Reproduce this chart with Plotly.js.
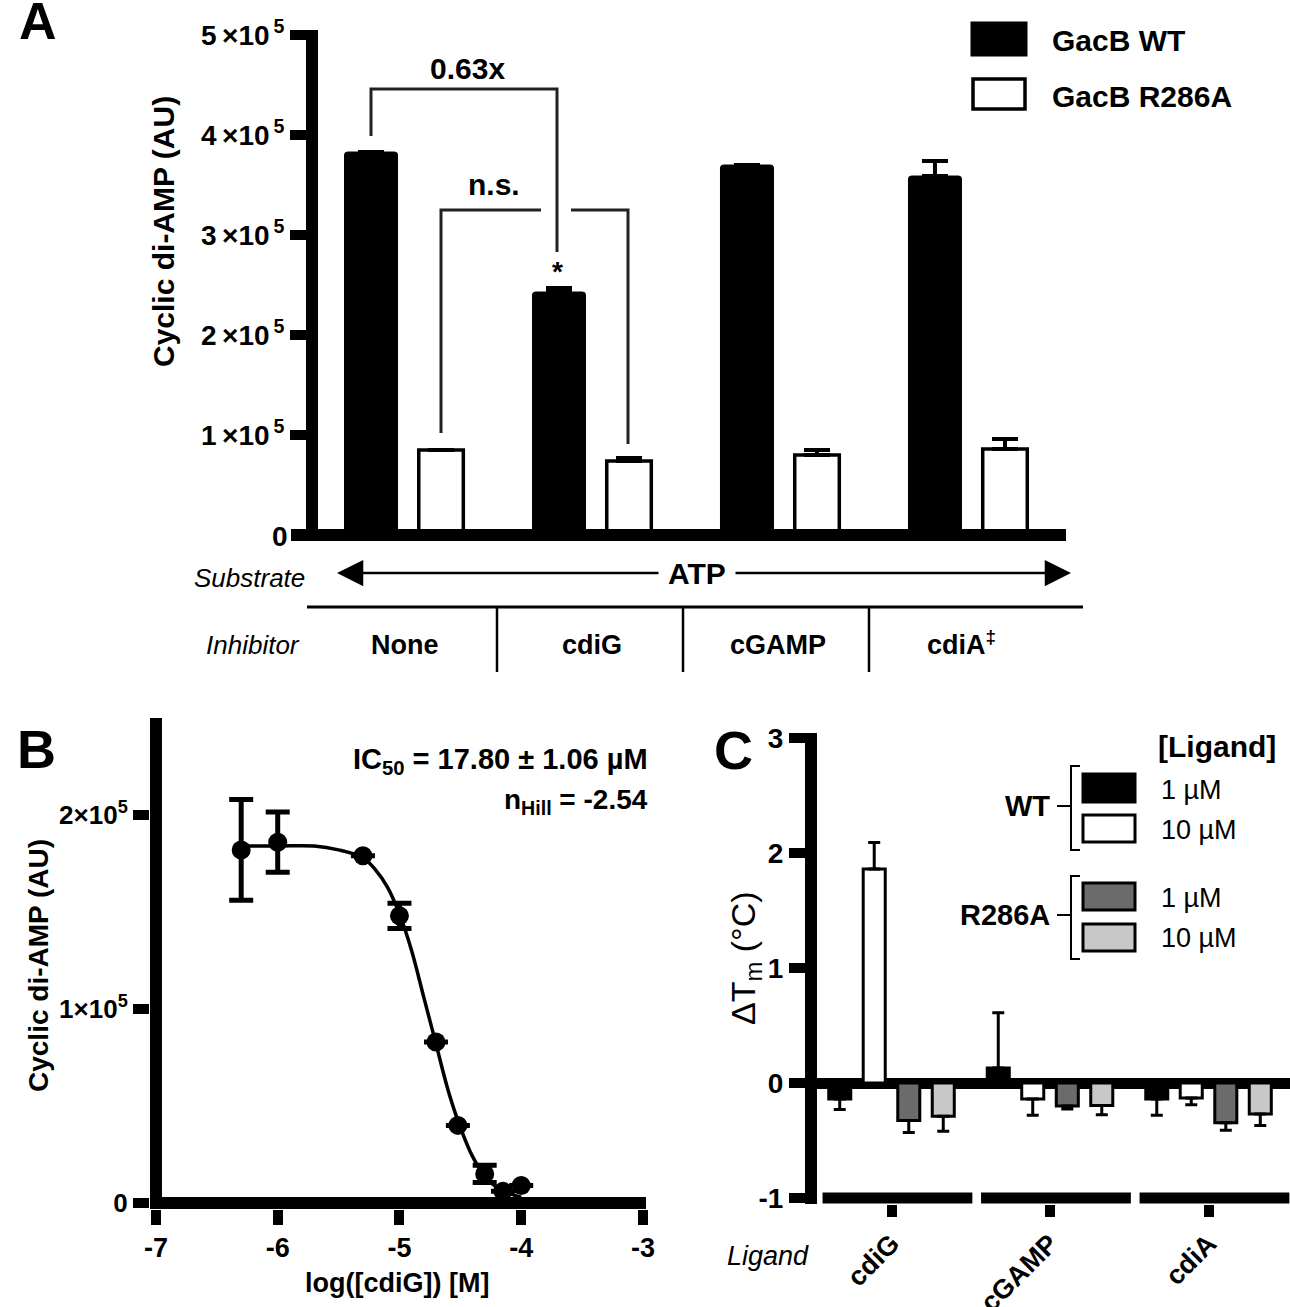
<!DOCTYPE html>
<html><head><meta charset="utf-8">
<script src="https://cdn.plot.ly/plotly-3.0.1.min.js"></script>
<style>html,body{margin:0;padding:0;background:#fff}</style>
</head><body><div id="chart" style="width:1290px;height:1307px"></div>
<script>
// ---------- Panel A data ----------
const inhibitors = ['None', 'cdiG', 'cGAMP', 'cdiA'];
const gacbWT = [383000, 243000, 370000, 359000];
const gacbWTErr = [0, 4000, 0, 15000];
const gacbR286A = [85000, 74000, 80000, 86000];
const gacbR286AErr = [0, 3000, 5000, 10000];
const aTickVals = [100000, 200000, 300000, 400000, 500000];
const aTickText = ['1\u2009×10<sup>\u20095</sup>', '2\u2009×10<sup>\u20095</sup>', '3\u2009×10<sup>\u20095</sup>', '4\u2009×10<sup>\u20095</sup>', '5\u2009×10<sup>\u20095</sup>'];

// ---------- Panel B data ----------
const logCdiG = [-6.3, -6.0, -5.3, -5.0, -4.7, -4.52, -4.3, -4.15, -4.0];
const cdaSignal = [182000, 186000, 179000, 148000, 83000, 40000, 15000, 6000, 9000];
const cdaSem = [26000, 15500, 0, 6500, 0, 0, 4500, 0, 0];
const fitX = [-6.3, -6.0, -5.7, -5.5, -5.3, -5.2, -5.1, -5.0, -4.9, -4.8, -4.7, -4.6, -4.5, -4.4, -4.3, -4.2, -4.1, -4.0];
const fitY = [184000, 184000, 184000, 182000, 178000, 172000, 163000, 149000, 130000, 106000, 82000, 58000, 39000, 24000, 14000, 8000, 5000, 3000];
const bTickVals = [-7, -6, -5, -4, -3];
const bTickText = ['-7', '-6', '-5', '-4', '-3'];
const bYTickVals = [0, 100000, 200000];
const bYTickText = ['0', '1×10<sup>5</sup>', '2×10<sup>5</sup>'];

// ---------- Panel C data ----------
const ligands = ['cdiG', 'cGAMP', 'cdiA'];
const wt1uM = [-0.14, 0.13, -0.14];
const wt1uMErr = [0.09, 0.48, 0.14];
const wt10uM = [1.86, -0.14, -0.13];
const wt10uMErr = [0.23, 0.14, 0.06];
const r1uM = [-0.325, -0.20, -0.345];
const r1uMErr = [0.105, 0.025, 0.065];
const r10uM = [-0.29, -0.195, -0.27];
const r10uMErr = [0.13, 0.08, 0.10];
const cTickVals = [-1, 0, 1, 2, 3];
const cTickText = ['-1', '0', '1', '2', '3'];

// ---------- helpers ----------
const W = 1290, H = 1307;
const fx = p => p / W, fy = p => 1 - p / H;
const FONT = 'Liberation Sans, Arial, Helvetica, sans-serif';
const fnt = (size, weight, style) => ({family: FONT, size: size, color: '#000', weight: weight || 'bold', style: style || 'normal'});
const upErr = (v, e) => v.map((x, i) => x >= 0 ? e[i] : 0);
const downErr = (v, e) => v.map((x, i) => x < 0 ? e[i] : 0);
const zeros = n => new Array(n).fill(0);

const traces = [];
// Panel A bars
traces.push({type: 'bar', x: inhibitors, y: gacbWT, xaxis: 'x', yaxis: 'y', width: 0.282, offset: -0.327,
  marker: {color: '#000', line: {color: '#000', width: 1}, cornerradius: 3},
  error_y: {type: 'data', symmetric: false, array: gacbWTErr, arrayminus: zeros(4), color: '#000', thickness: 4, width: 13}});
traces.push({type: 'bar', x: inhibitors, y: gacbR286A, xaxis: 'x', yaxis: 'y', width: 0.237, offset: 0.068,
  marker: {color: '#fff', line: {color: '#000', width: 3.5}},
  error_y: {type: 'data', symmetric: false, array: gacbR286AErr, arrayminus: zeros(4), color: '#000', thickness: 4, width: 13}});
// Panel B
traces.push({type: 'scatter', mode: 'lines', x: fitX, y: fitY, xaxis: 'x2', yaxis: 'y2',
  line: {color: '#000', width: 3.5, shape: 'spline', smoothing: 1.0}});
traces.push({type: 'scatter', mode: 'markers', x: logCdiG, y: cdaSignal, xaxis: 'x2', yaxis: 'y2',
  marker: {color: '#000', size: 19, symbol: 'circle'},
  error_y: {type: 'data', array: cdaSem, color: '#000', thickness: 5, width: 12}});
// Panel C bars
const cBar = (vals, errs, color, offset) => ({type: 'bar', x: ligands, y: vals, xaxis: 'x3', yaxis: 'y3', width: 0.139, offset: offset,
  marker: {color: color, line: {color: '#000', width: 3}},
  error_y: {type: 'data', symmetric: false, array: upErr(vals, errs), arrayminus: downErr(vals, errs), color: '#000', thickness: 3, width: 6}});
traces.push(cBar(wt1uM, wt1uMErr, '#000', -0.396));
traces.push(cBar(wt10uM, wt10uMErr, '#fff', -0.1785));
traces.push(cBar(r1uM, r1uMErr, '#6b6b6b', 0.0395));
traces.push(cBar(r10uM, r10uMErr, '#c8c8c8', 0.257));

// ---------- shapes ----------
const shapes = [];
const pline = (x0, y0, x1, y1, w) => shapes.push({type: 'line', xref: 'paper', yref: 'paper', x0: fx(x0), y0: fy(y0), x1: fx(x1), y1: fy(y1), line: {color: '#000', width: w}});
const ppath = (pts, w, col) => shapes.push({type: 'path', xref: 'paper', yref: 'paper',
  path: pts.map((p, i) => (i ? 'L' : 'M') + fx(p[0]) + ',' + fy(p[1])).join(' '), line: {color: col || '#222', width: w}});
const prect = (x0, y0, x1, y1, fill, w) => shapes.push({type: 'rect', xref: 'paper', yref: 'paper', x0: fx(x0), y0: fy(y1), x1: fx(x1), y1: fy(y0), fillcolor: fill, line: {color: '#000', width: w}});

// Panel A decorations
pline(291, 535, 318, 535, 12);
ppath([[371, 136], [371, 89], [557, 89], [557, 252]], 3);
ppath([[441, 433], [441, 210], [541, 210]], 3);
ppath([[571, 210], [628, 210], [628, 444]], 3);
prect(972, 23, 1026, 55, '#000', 3);
prect(973, 79, 1025, 109, '#fff', 3.5);
pline(307, 607, 1083, 607, 3);
[497, 683, 869].forEach(x => pline(x, 607, x, 672, 2.5));
// Panel B y axis line at x = -7
shapes.push({type: 'line', xref: 'x2', yref: 'y2', x0: -7, x1: -7, y0: -3100, y1: 250000, line: {color: '#000', width: 12}});
// Panel C segmented category axis
ligands.forEach((l, i) => shapes.push({type: 'line', xref: 'x3', yref: 'y3', x0: i - 0.435, x1: i + 0.51, y0: -1, y1: -1, line: {color: '#000', width: 11}}));
// Panel C legend
prect(1083, 774, 1135, 802, '#000', 3);
prect(1083, 815, 1135, 842, '#fff', 3);
prect(1083, 883, 1135, 910, '#6b6b6b', 3);
prect(1083, 924, 1135, 951, '#c8c8c8', 3);
ppath([[1080, 766], [1071, 766], [1071, 850], [1080, 850]], 2, '#000');
ppath([[1057, 806], [1071, 806]], 2, '#000');
ppath([[1080, 876], [1071, 876], [1071, 959], [1080, 959]], 2, '#000');
ppath([[1057, 915], [1071, 915]], 2, '#000');

// ---------- annotations ----------
const ann = [];
const txt = (text, x, y, font, xanchor, extra) => ann.push(Object.assign({text: text, x: fx(x), y: fy(y), xref: 'paper', yref: 'paper',
  showarrow: false, xanchor: xanchor || 'center', yanchor: 'middle', font: font}, extra || {}));
// Panel A
txt('A', 38, 21, fnt(52));
txt('Cyclic di-AMP (AU)', 163, 232, fnt(30), 'center', {textangle: -90});
txt('0', 290, 536, fnt(28), 'right');
txt('0.63x', 467, 69, fnt(30));
txt('n.s.', 494, 184, fnt(30));
txt('*', 557, 272, fnt(28));
txt('GacB WT', 1050, 40, fnt(30), 'left');
txt('GacB R286A', 1050, 96, fnt(30), 'left');
txt('Substrate', 249, 578, fnt(26, 'normal', 'italic'));
txt('ATP', 697, 574, fnt(30));
txt('Inhibitor', 253, 645, fnt(26, 'normal', 'italic'));
txt('None', 405, 645, fnt(27));
txt('cdiG', 592, 645, fnt(27));
txt('cGAMP', 778, 645, fnt(27));
txt('cdiA<sup>‡</sup>', 962, 643, fnt(27));
ann.push({text: '', x: fx(337), y: fy(573), xref: 'paper', yref: 'paper', showarrow: true, ax: 660 - 337, ay: 0,
  arrowhead: 2, arrowsize: 2.1, arrowwidth: 2.5, arrowcolor: '#000', standoff: 0, startstandoff: 0});
ann.push({text: '', x: fx(1071), y: fy(573), xref: 'paper', yref: 'paper', showarrow: true, ax: 734 - 1071, ay: 0,
  arrowhead: 2, arrowsize: 2.1, arrowwidth: 2.5, arrowcolor: '#000', standoff: 0, startstandoff: 0});
// Panel B
txt('B', 36, 749, fnt(54));
txt('Cyclic di-AMP (AU)', 38, 966, fnt(28), 'center', {textangle: -90});
txt('IC<sub>50</sub> = 17.80 ± 1.06 µM', 650, 761, fnt(29), 'right');
txt('n<sub>Hill</sub> = -2.54', 650, 801, fnt(28), 'right');
txt('log([cdiG]) [M]', 397, 1283, fnt(27));
// Panel C
txt('C', 733, 750, fnt(54));
txt('ΔT<sub>m</sub> (°C)', 745, 958, fnt(34, 'normal'), 'center', {textangle: -90});
txt('[Ligand]', 1278, 746, fnt(30), 'right');
txt('1 µM', 1159, 790, fnt(27, 'normal'), 'left');
txt('10 µM', 1159, 830, fnt(27, 'normal'), 'left');
txt('1 µM', 1159, 898, fnt(27, 'normal'), 'left');
txt('10 µM', 1159, 938, fnt(27, 'normal'), 'left');
txt('WT', 1052, 806, fnt(29), 'right');
txt('R286A', 1052, 915, fnt(29), 'right');
txt('Ligand', 768, 1256, fnt(27, 'normal', 'italic'));

const layout = {
  width: W, height: H, margin: {l: 0, r: 0, t: 0, b: 0}, paper_bgcolor: '#fff', plot_bgcolor: 'rgba(0,0,0,0)',
  showlegend: false, barmode: 'overlay', hovermode: false,
  xaxis: {domain: [fx(318), fx(1066)], range: [-0.468, 3.511], type: 'category', anchor: 'y', showline: true, linewidth: 12, linecolor: '#000',
    ticks: '', showticklabels: false, showgrid: false, zeroline: false, fixedrange: true},
  yaxis: {domain: [fy(529), fy(30)], range: [6000, 505000], anchor: 'x', showline: true, linewidth: 12, linecolor: '#000',
    tickvals: aTickVals, ticktext: aTickText, ticks: 'outside', ticklen: 16, tickwidth: 10, tickcolor: '#000',
    tickfont: fnt(28), showgrid: false, zeroline: false},
  xaxis2: {domain: [fx(150), fx(646)], range: [-7.049, -2.975], anchor: 'y2', showline: false,
    tickvals: bTickVals, ticktext: bTickText, ticks: 'outside', ticklen: 15, tickwidth: 10, tickcolor: '#000',
    tickfont: fnt(27), showgrid: false, zeroline: false},
  yaxis2: {domain: [fy(1209), fy(718)], range: [-3100, 250000], anchor: 'x2', showline: false,
    tickvals: bYTickVals, ticktext: bYTickText, ticks: 'outside', ticklen: 16, tickwidth: 10, tickcolor: '#000',
    tickfont: fnt(26), showgrid: false, zeroline: true, zerolinewidth: 12, zerolinecolor: '#000'},
  xaxis3: {domain: [fx(817), 1], range: [-0.47, 2.514], type: 'category', anchor: 'y3', showline: false,
    ticks: 'outside', ticklen: 12, tickwidth: 10, tickcolor: '#000', tickangle: -45,
    tickfont: fnt(27), showgrid: false, zeroline: false},
  yaxis3: {domain: [fy(1204), fy(733)], range: [-1.052, 3.043], anchor: 'x3', showline: true, linewidth: 12, linecolor: '#000',
    tickvals: cTickVals, ticktext: cTickText, ticks: 'outside', ticklen: 16, tickwidth: 10, tickcolor: '#000',
    tickfont: fnt(28), showgrid: false, zeroline: true, zerolinewidth: 11, zerolinecolor: '#000'},
  shapes: shapes, annotations: ann
};
Plotly.newPlot('chart', traces, layout, {staticPlot: true, displayModeBar: false});
</script></body></html>
